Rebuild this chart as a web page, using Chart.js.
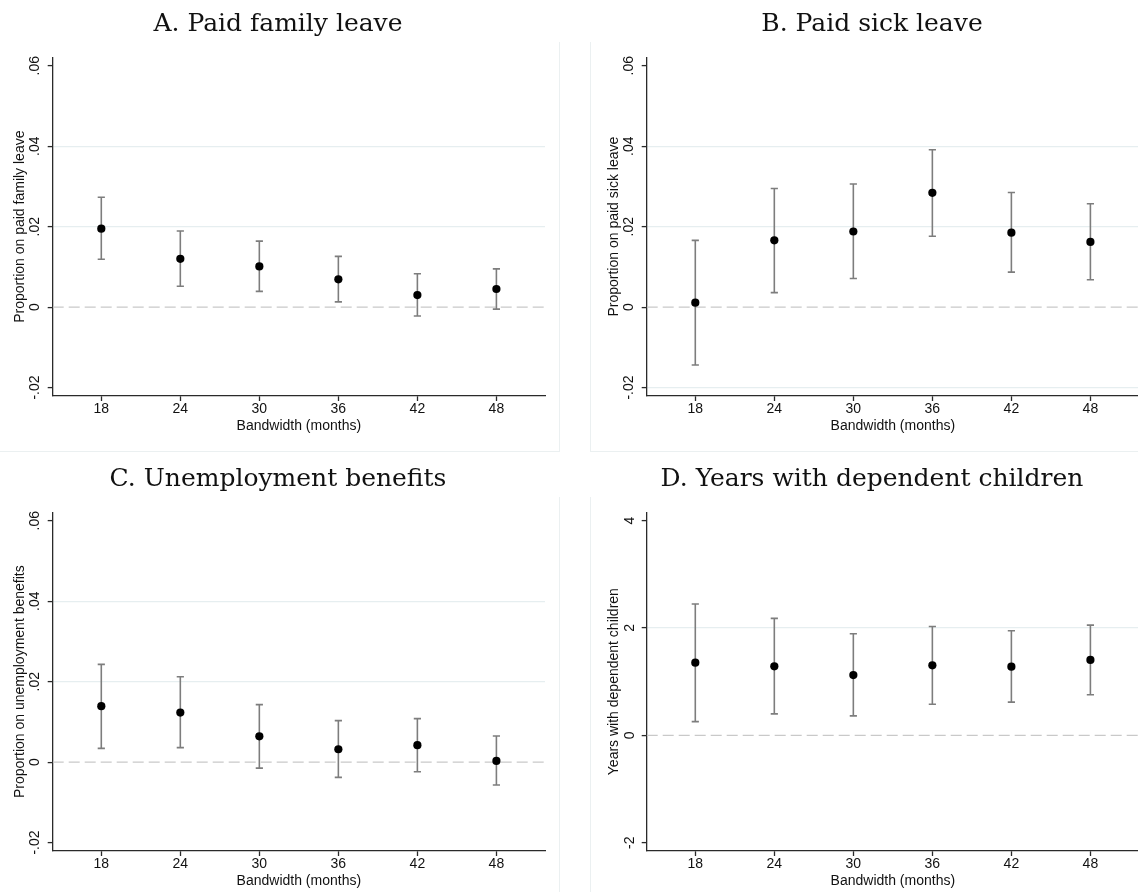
<!DOCTYPE html>
<html>
<head>
<meta charset="utf-8">
<script src="https://cdn.jsdelivr.net/npm/chart.js@4/dist/chart.umd.min.js"></script>
<style>
    body { margin: 0; background: #fff; }
    #lienzo { position: relative; width: 1138px; height: 892px; overflow: hidden; background: #fff; }
    .panel { position: absolute; width: 562px; height: 451px; }
    .marco { position: absolute; box-sizing: border-box; width: 563px; height: 410px;
             border: 1px solid #ebf0f1; border-top: none; }
</style>
</head>
<body>
<div id="lienzo">
    <div class="marco" style="left:-3px; top:42px;"></div>
    <div class="marco" style="left:590px; top:42px;"></div>
    <div class="marco" style="left:-3px; top:497px;"></div>
    <div class="marco" style="left:590px; top:497px;"></div>
    <canvas id="chartFamilia" class="panel" width="562" height="451" style="left:-3px; top:0;"></canvas>
    <canvas id="chartEnfermedad" class="panel" width="562" height="451" style="left:591px; top:0;"></canvas>
    <canvas id="chartDesempleo" class="panel" width="562" height="451" style="left:-3px; top:455px;"></canvas>
    <canvas id="chartHijos" class="panel" width="562" height="451" style="left:591px; top:455px;"></canvas>
</div>
<script>
// Ancho de banda (meses)
const bandwidth = [18, 24, 30, 36, 42, 48];

// A. Paid family leave
const familiaCoef = [0.0195, 0.0120, 0.0101, 0.0069, 0.0030, 0.0045];
const familiaInf  = [0.0119, 0.0052, 0.0039, 0.0013, -0.0022, -0.0005];
const familiaSup  = [0.0273, 0.0189, 0.0164, 0.0126, 0.0083, 0.0095];

// B. Paid sick leave
const enfermedadCoef = [0.0011, 0.0166, 0.0188, 0.0284, 0.0185, 0.0162];
const enfermedadInf  = [-0.0144, 0.0036, 0.0071, 0.0176, 0.0087, 0.0068];
const enfermedadSup  = [0.0166, 0.0295, 0.0306, 0.0391, 0.0285, 0.0257];

// C. Unemployment benefits
const desempleoCoef = [0.0139, 0.0123, 0.0064, 0.0032, 0.0042, 0.0003];
const desempleoInf  = [0.0034, 0.0036, -0.0015, -0.0038, -0.0024, -0.0057];
const desempleoSup  = [0.0243, 0.0212, 0.0143, 0.0103, 0.0108, 0.0065];

// D. Years with dependent children
const hijosCoef = [1.354, 1.286, 1.123, 1.304, 1.279, 1.404];
const hijosInf  = [0.256, 0.399, 0.362, 0.580, 0.618, 0.755];
const hijosSup  = [2.446, 2.178, 1.891, 2.028, 1.947, 2.053];

// Marcas de los ejes
const ticksProporcion = [-0.02, 0, 0.02, 0.04, 0.06];
const ticksAnios = [-2, 0, 2, 4];

const X_MIN = 14.31;
const X_MAX = 51.69;

const SANS = "'Liberation Sans', Arial, sans-serif";
const EJE = '#2a2a2a';
const BARRA = '#7d7d7d';
const REJILLA = '#e6eef0';

// Formato tipo Stata: .02 en vez de 0.02
const formatoTick = (v) => v === 0 ? '0' : String(v).replace('0.', '.');

// Función para crear cada panel
const crearPanel = (ctxId, titulo, etiquetaY, coef, inf, sup, yMin, yMax, yTicks, rejillaEn, padTick) => {
    const ctx = document.getElementById(ctxId).getContext('2d');

    // tramos verticales separados por null
    const tramos = [];
    bandwidth.forEach((x, i) => {
        tramos.push({ x: x, y: inf[i] }, { x: x, y: sup[i] }, { x: x, y: null });
    });
    const topes = bandwidth.map((x, i) => ({ x: x, y: inf[i] }))
        .concat(bandwidth.map((x, i) => ({ x: x, y: sup[i] })));
    const puntos = bandwidth.map((x, i) => ({ x: x, y: coef[i] }));

    new Chart(ctx, {
        type: 'scatter',
        data: {
            datasets: [
                {
                    data: [{ x: X_MIN, y: 0 }, { x: X_MAX, y: 0 }],
                    showLine: true,
                    borderColor: '#c9c9c9',
                    borderWidth: 1.3,
                    borderDash: [11, 5],
                    pointRadius: 0,
                    order: 4
                },
                {
                    data: tramos,
                    showLine: true,
                    spanGaps: false,
                    borderColor: BARRA,
                    borderWidth: 1.6,
                    pointRadius: 0,
                    order: 3
                },
                {
                    data: topes,
                    pointStyle: 'line',
                    pointRadius: 3.6,
                    borderColor: BARRA,
                    borderWidth: 1.6,
                    order: 2
                },
                {
                    data: puntos,
                    pointStyle: 'circle',
                    pointRadius: 4.1,
                    backgroundColor: '#000',
                    borderWidth: 0,
                    order: 1
                }
            ]
        },
        options: {
            responsive: false,
            animation: false,
            devicePixelRatio: 1,
            layout: { padding: { left: 14, right: 14, top: 0, bottom: 0 } },
            plugins: {
                legend: { display: false },
                tooltip: { enabled: false },
                title: {
                    display: true,
                    text: titulo,
                    color: '#111',
                    font: { family: "'DejaVu Serif', serif", size: 25, weight: 'normal' },
                    padding: { top: 9.6, bottom: 17.7 }
                }
            },
            scales: {
                x: {
                    type: 'linear',
                    min: X_MIN,
                    max: X_MAX,
                    offset: false,
                    afterBuildTicks: (s) => { s.ticks = bandwidth.map(v => ({ value: v })); },
                    afterFit: (s) => { s.height = 55; s.paddingLeft = 0; s.paddingRight = 0; },
                    ticks: { font: { family: SANS, size: 14 }, color: '#111', padding: 0 },
                    grid: { offset: false, drawOnChartArea: false, tickLength: 5, tickColor: EJE, tickWidth: 1.3 },
                    border: { color: EJE, width: 1.3 },
                    title: {
                        display: true,
                        text: 'Bandwidth (months)',
                        color: '#111',
                        font: { family: SANS, size: 14 },
                        padding: { top: 0, bottom: 16.6 }
                    }
                },
                y: {
                    type: 'linear',
                    min: yMin,
                    max: yMax,
                    afterBuildTicks: (s) => { s.ticks = yTicks.map(v => ({ value: v })); },
                    afterFit: (s) => { s.width = 41.7; s.paddingTop = 0; s.paddingBottom = 0; },
                    ticks: {
                        font: { family: SANS, size: 14 },
                        color: '#111',
                        minRotation: 90,
                        maxRotation: 90,
                        crossAlign: 'center',
                        padding: padTick,
                        callback: formatoTick
                    },
                    grid: {
                        color: (c) => rejillaEn.includes(c.tick && c.tick.value) ? REJILLA : 'rgba(0,0,0,0)',
                        lineWidth: 1.2,
                        tickLength: 5,
                        tickColor: EJE,
                        tickWidth: 1.3
                    },
                    border: { color: EJE, width: 1.3 },
                    title: {
                        display: true,
                        text: etiquetaY,
                        color: '#111',
                        font: { family: SANS, size: 14 },
                        padding: { top: 1, bottom: 0 }
                    }
                }
            }
        }
    });
};

// Inicializar los cuatro paneles
crearPanel('chartFamilia', 'A. Paid family leave', 'Proportion on paid family leave',
    familiaCoef, familiaInf, familiaSup, -0.0221, 0.0621, ticksProporcion, [0.02, 0.04], 0.6);
crearPanel('chartEnfermedad', 'B. Paid sick leave', 'Proportion on paid sick leave',
    enfermedadCoef, enfermedadInf, enfermedadSup, -0.0221, 0.0621, ticksProporcion, [-0.02, 0.02, 0.04], 0.6);
crearPanel('chartDesempleo', 'C. Unemployment benefits', 'Proportion on unemployment benefits',
    desempleoCoef, desempleoInf, desempleoSup, -0.0221, 0.0621, ticksProporcion, [0.02, 0.04], 0.6);
crearPanel('chartHijos', 'D. Years with dependent children', 'Years with dependent children',
    hijosCoef, hijosInf, hijosSup, -2.155, 4.155, ticksAnios, [2], 5.4);
</script>
</body>
</html>
